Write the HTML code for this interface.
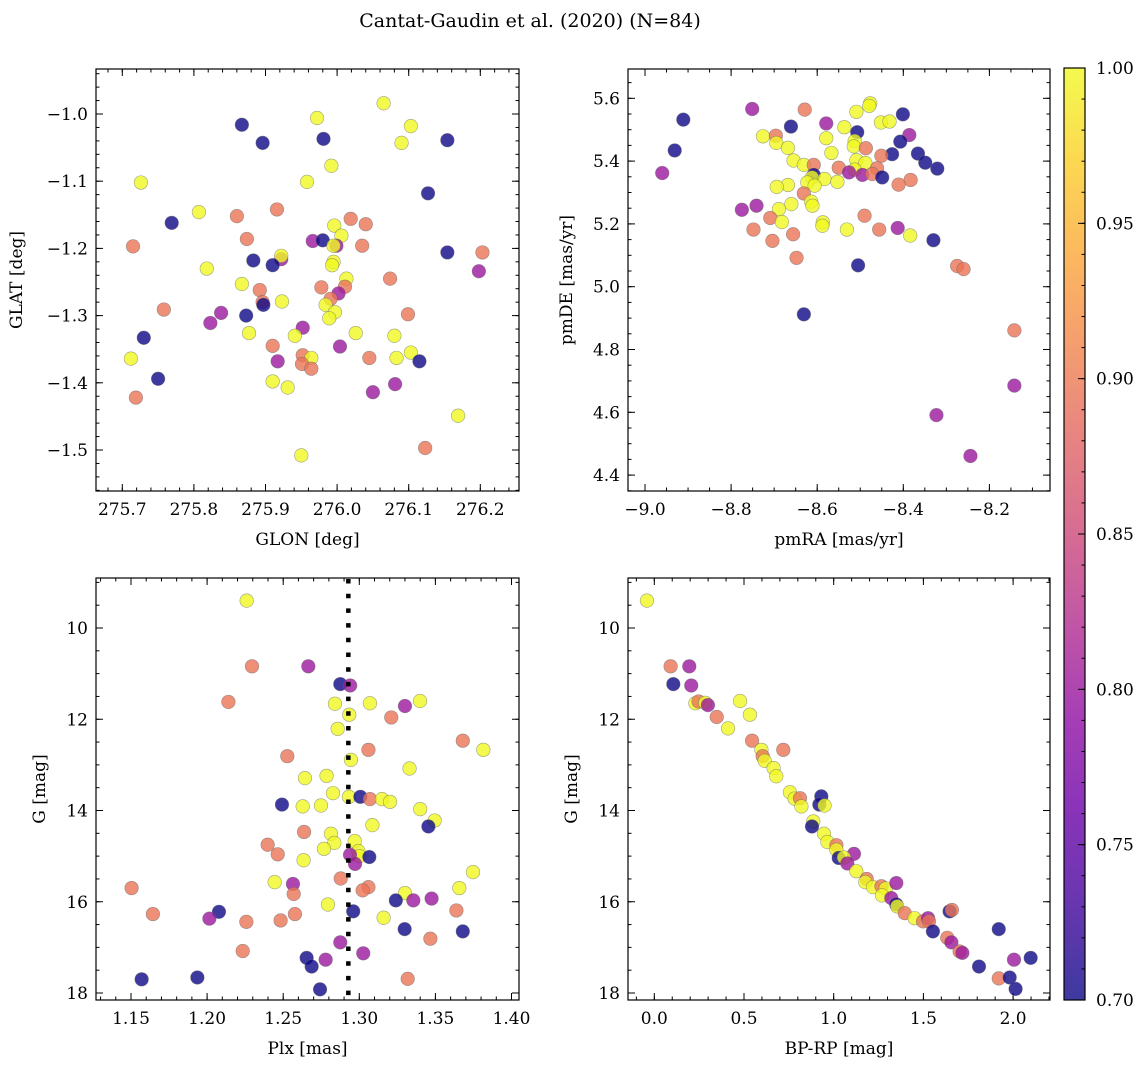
<!DOCTYPE html>
<html><head><meta charset="utf-8"><style>
html,body{margin:0;padding:0;background:#fff;}
svg{display:block;font-family:"DejaVu Serif","Liberation Serif",serif;}
</style></head><body>
<svg id="fig" width="1148" height="1068" viewBox="0 0 1148 1068" xmlns="http://www.w3.org/2000/svg">
<text x="530" y="27" text-anchor="middle" font-size="19">Cantat-Gaudin et al. (2020) (N=84)</text>
</svg>
<script>
// Panel 1: GLON / GLAT
const p1x=[276.065,275.972,276.103,275.867,275.896,275.981,276.090,276.154,275.992,275.726,275.958,276.127,275.807,275.916,275.860,276.019,275.769,276.040,275.996,276.006,275.874,275.966,275.980,275.999,275.995,276.035,275.715,276.154,276.203,275.922,275.922,275.883,275.910,275.995,275.993,276.198,275.818,276.013,276.074,276.011,275.867,275.978,275.892,276.002,275.991,275.896,275.897,275.984,275.923,275.997,275.989,275.758,275.838,275.823,275.873,276.099,275.877,275.952,275.941,276.026,276.080,275.730,276.004,275.910,275.712,275.917,275.952,275.964,275.951,275.964,276.045,276.083,276.103,276.115,275.750,275.910,275.931,276.081,276.050,275.719,276.169,276.123,275.950];
const p1y=[-0.984,-1.006,-1.018,-1.016,-1.043,-1.037,-1.043,-1.039,-1.077,-1.102,-1.101,-1.118,-1.146,-1.142,-1.152,-1.156,-1.162,-1.164,-1.166,-1.181,-1.186,-1.189,-1.188,-1.196,-1.196,-1.196,-1.197,-1.206,-1.206,-1.216,-1.211,-1.218,-1.225,-1.220,-1.225,-1.234,-1.230,-1.245,-1.245,-1.257,-1.253,-1.258,-1.262,-1.267,-1.275,-1.280,-1.284,-1.284,-1.279,-1.295,-1.304,-1.291,-1.296,-1.311,-1.300,-1.298,-1.326,-1.318,-1.330,-1.326,-1.330,-1.333,-1.346,-1.345,-1.364,-1.368,-1.359,-1.363,-1.372,-1.379,-1.363,-1.363,-1.355,-1.368,-1.394,-1.398,-1.407,-1.402,-1.414,-1.422,-1.449,-1.497,-1.508];
const p1p=[1,1,1,.7,.7,.7,1,.7,1,1,1,.7,1,.895,.895,.895,.7,.895,1,1,.895,.8,.7,.8,1,.895,.895,.7,.895,.8,1,.7,.7,1,1,.8,1,1,.895,.895,1,.895,.895,.8,.895,.895,.7,1,1,1,1,.895,.8,.8,.7,.895,1,.8,1,1,1,.7,.8,.895,1,.8,.895,1,.895,.895,.895,1,1,.7,.7,1,1,.8,.8,.895,1,.895,1];
// Panel 2: pmRA / pmDE
const p2x=[-8.751,-8.629,-8.911,-8.477,-8.479,-8.509,-8.401,-8.452,-8.432,-8.579,-8.661,-8.537,-8.507,-8.726,-8.696,-8.579,-8.386,-8.407,-8.695,-8.513,-8.515,-8.668,-8.487,-8.931,-8.567,-8.426,-8.366,-8.451,-8.509,-8.488,-8.655,-8.349,-8.631,-8.608,-8.550,-8.321,-8.461,-8.513,-8.526,-8.495,-8.472,-8.960,-8.608,-8.449,-8.612,-8.583,-8.553,-8.623,-8.383,-8.411,-8.606,-8.668,-8.694,-8.631,-8.614,-8.611,-8.660,-8.741,-8.775,-8.689,-8.490,-8.709,-8.682,-8.587,-8.588,-8.748,-8.531,-8.456,-8.413,-8.384,-8.656,-8.330,-8.704,-8.648,-8.505,-8.275,-8.260,-8.631,-8.142,-8.142,-8.323,-8.244];
const p2y=[5.566,5.564,5.532,5.584,5.576,5.557,5.549,5.523,5.526,5.520,5.510,5.508,5.492,5.479,5.481,5.473,5.483,5.462,5.458,5.464,5.447,5.442,5.441,5.434,5.426,5.422,5.424,5.417,5.403,5.394,5.402,5.395,5.388,5.388,5.379,5.376,5.377,5.373,5.364,5.356,5.359,5.362,5.356,5.348,5.348,5.343,5.334,5.332,5.340,5.325,5.322,5.324,5.318,5.297,5.271,5.258,5.263,5.258,5.245,5.247,5.226,5.219,5.206,5.205,5.194,5.182,5.182,5.182,5.187,5.163,5.167,5.148,5.146,5.092,5.068,5.066,5.056,4.912,4.861,4.685,4.591,4.461];
const p2p=[.8,.895,.7,1,1,1,.7,1,1,.8,.7,1,.7,1,.895,1,.8,.7,1,1,1,1,.895,.7,1,.7,.7,.895,1,1,1,.7,1,.895,.895,.7,.895,1,.8,.8,.895,.8,.7,.7,1,1,1,1,.895,.895,1,1,1,.895,1,1,1,.8,.8,1,.895,.895,1,1,1,.895,1,.895,.8,1,.895,.7,.895,.895,.7,.895,.895,.7,.895,.8,.8,.8];
// Panel 3: Plx / G
const p3x=[1.226,1.2295,1.2665,1.2875,1.294,1.214,1.284,1.307,1.330,1.3399,1.2934,1.321,1.2858,1.368,1.3815,1.306,1.2527,1.2945,1.333,1.2643,1.2785,1.2827,1.2932,1.3007,1.307,1.3149,1.3202,1.2492,1.2628,1.2748,1.340,1.3495,1.3454,1.3086,1.2637,1.2814,1.2836,1.297,1.2398,1.2768,1.2464,1.2634,1.2994,1.300,1.2939,1.2972,1.3066,1.3747,1.2878,1.2444,1.2564,1.1504,1.306,1.3022,1.2569,1.330,1.3657,1.324,1.3355,1.3475,1.2794,1.2078,1.2015,1.1644,1.2258,1.2483,1.2577,1.296,1.316,1.3638,1.3298,1.368,1.3467,1.2875,1.2234,1.2654,1.2779,1.3026,1.2687,1.157,1.1936,1.3318,1.2742];
const p3y=[9.40,10.84,10.84,11.23,11.26,11.62,11.66,11.65,11.71,11.60,11.90,11.96,12.21,12.47,12.67,12.67,12.81,12.89,13.08,13.29,13.24,13.62,13.70,13.70,13.75,13.75,13.81,13.87,13.91,13.89,13.97,14.22,14.35,14.32,14.47,14.51,14.71,14.67,14.75,14.84,14.96,15.09,14.89,15.00,14.97,15.17,15.02,15.35,15.49,15.57,15.61,15.70,15.68,15.75,15.83,15.81,15.70,15.97,15.97,15.93,16.06,16.22,16.37,16.27,16.44,16.41,16.27,16.21,16.35,16.19,16.60,16.65,16.81,16.89,17.08,17.23,17.27,17.13,17.42,17.70,17.66,17.69,17.92];
const p3p=[1,.895,.8,.7,.8,.895,1,1,.8,1,1,.895,1,.895,1,.895,.895,1,1,1,1,1,1,.7,.895,1,1,.7,1,1,1,1,.7,1,.895,1,1,1,.895,1,.895,1,1,1,.8,.8,.7,1,.895,1,.8,.895,.895,.895,.895,1,1,.7,.8,.8,1,.7,.8,.895,.895,.895,.895,.7,1,.895,.7,.7,.895,.8,.895,.7,.8,.8,.7,.7,.7,.895,.7];
// Panel 4: BP-RP / G
const p4x=[-0.041,0.091,0.195,0.106,0.206,0.229,0.247,0.284,0.299,0.478,0.533,0.348,0.411,0.545,0.719,0.597,0.604,0.615,0.665,0.680,0.756,0.782,0.931,0.920,0.949,0.812,0.820,0.886,0.879,0.946,0.965,1.015,1.015,1.113,1.028,1.057,1.076,1.126,1.184,1.176,1.219,1.266,1.290,1.269,1.349,1.321,1.349,1.354,1.396,1.451,1.498,1.526,1.531,1.553,1.646,1.659,1.633,1.656,1.702,1.717,1.810,1.920,2.005,2.098,1.920,1.981,2.014];
const p4y=[9.40,10.84,10.84,11.23,11.26,11.65,11.61,11.64,11.69,11.60,11.90,11.95,12.20,12.47,12.67,12.67,12.81,12.91,13.07,13.25,13.60,13.74,13.69,13.87,13.89,13.73,13.91,14.24,14.35,14.51,14.69,14.76,14.86,14.95,15.04,15.03,15.16,15.33,15.50,15.57,15.68,15.66,15.71,15.86,15.59,15.92,16.06,16.10,16.25,16.36,16.43,16.36,16.43,16.65,16.21,16.18,16.79,16.89,17.09,17.12,17.42,16.60,17.27,17.23,17.68,17.66,17.91];
const p4p=[1,.895,.8,.7,.8,1,.895,1,.8,1,1,.895,1,.895,.895,1,.895,1,1,1,1,1,.7,.7,1,.895,1,1,.7,1,1,.895,1,.8,.7,1,.8,1,.895,1,1,.895,1,1,.8,.8,.7,1,.895,1,.895,.8,.895,.7,.7,.895,.895,.8,.895,.8,.7,.7,.8,.7,.895,.7,.7];
const cbTicks=[0.70,0.75,0.80,0.85,0.90,0.95,1.00];

const NS="http://www.w3.org/2000/svg";
const svg=document.getElementById('fig');
const FS=17;
function mk(tag,attrs,parent){const e=document.createElementNS(NS,tag);for(const k in attrs)e.setAttribute(k,attrs[k]);(parent||svg).appendChild(e);return e;}
const stops=['#0d0887','#41049d','#6a00a8','#8f0da4','#b12a90','#cc4778','#e16462','#f2844b','#fca636','#fcce25','#f0f921'];
function hex(h){return [parseInt(h.substr(1,2),16),parseInt(h.substr(3,2),16),parseInt(h.substr(5,2),16)];}
function plasma(t){t=Math.max(0,Math.min(1,t));const f=t*10,i=Math.min(9,Math.floor(f)),r=f-i;const a=hex(stops[i]),b=hex(stops[i+1]);return 'rgb('+a.map((v,k)=>Math.round(v+(b[k]-v)*r)).join(',')+')';}
const lab=(v,d)=>(v<0?'\u2212':'')+Math.abs(v).toFixed(d);

function panel(cfg){
  const {name,L,T,W,H,xmin,xmax,ymin,ymax,invY,xt,yt,xminor,yminor,xd,yd,xlab,ylab}=cfg;
  const g=mk('g',{},svg);
  
  
  const sx=v=>L+(v-xmin)/(xmax-xmin)*W;
  const sy=v=>invY? T+(v-ymin)/(ymax-ymin)*H : T+H-(v-ymin)/(ymax-ymin)*H;
  const tg=mk('g',{stroke:'#000','stroke-width':1},g);
  
  
  const eps=1e-9;
  function ticksX(step,len){const s=Math.ceil((Math.min(xmin,xmax)-eps)/step);for(let k=s;k*step<=Math.max(xmin,xmax)+eps;k++){const x=sx(k*step);mk('line',{x1:x,x2:x,y1:T+H,y2:T+H-len},tg);mk('line',{x1:x,x2:x,y1:T,y2:T+len},tg);}}
  function ticksY(step,len){const s=Math.ceil((Math.min(ymin,ymax)-eps)/step);for(let k=s;k*step<=Math.max(ymin,ymax)+eps;k++){const y=sy(k*step);mk('line',{x1:L,x2:L+len,y1:y,y2:y},tg);mk('line',{x1:L+W,x2:L+W-len,y1:y,y2:y},tg);}}
  ticksX(xminor,3.5);ticksY(yminor,3.5);
  xt.forEach(v=>{const x=sx(v);mk('line',{x1:x,x2:x,y1:T+H,y2:T+H-7},tg);mk('line',{x1:x,x2:x,y1:T,y2:T+7},tg);
    const t=mk('text',{x:x,y:T+H+24,'text-anchor':'middle','font-size':FS},g);t.textContent=lab(v,xd);
    });
  yt.forEach(v=>{const y=sy(v);mk('line',{x1:L,x2:L+7,y1:y,y2:y},tg);mk('line',{x1:L+W,x2:L+W-7,y1:y,y2:y},tg);
    const t=mk('text',{x:L-8,y:y+6,'text-anchor':'end','font-size':FS},g);t.textContent=lab(v,yd);
    });
  const xl=mk('text',{x:L+W/2,y:T+H+54,'text-anchor':'middle','font-size':FS},g);xl.textContent=xlab;
  
  const yl=mk('text',{x:0,y:0,'text-anchor':'middle','font-size':FS,transform:'translate('+(cfg.ylx)+','+(T+H/2)+') rotate(-90)'},g);yl.textContent=ylab;
  
  const cp='clip-'+name;const defs=mk('defs',{},g);const c=mk('clipPath',{id:cp},defs);mk('rect',{x:L,y:T,width:W,height:H},c);
  const pts=mk('g',{'clip-path':'url(#'+cp+')'},g);
  
  
  cfg.xs.forEach((v,i)=>{const e=mk('circle',{cx:sx(v),cy:sy(cfg.ys[i]),r:6.8,fill:plasma((cfg.ps[i]-0.7)/0.3),'fill-opacity':0.8,stroke:'#666','stroke-opacity':0.6,'stroke-width':0.6},pts);
    
    });
  if(cfg.vline!==undefined){const l=mk('line',{x1:sx(cfg.vline),x2:sx(cfg.vline),y1:T+1,y2:T+H,stroke:'#000','stroke-width':4.5,'stroke-dasharray':'4.5 10.2'},g);
    }
  const fr=mk('rect',{x:L,y:T,width:W,height:H,fill:'none',stroke:'#000','stroke-width':1.2},g);
  
}
panel({name:'glon-glat-panel',L:96,T:69,W:423,H:422,xmin:275.7-26.3/716,xmax:275.7+396.7/716,ymin:-1.0-(491-114)/672,ymax:-1.0+(114-69)/672,invY:false,
  xt:[275.7,275.8,275.9,276.0,276.1,276.2],yt:[-1.0,-1.1,-1.2,-1.3,-1.4,-1.5],xminor:0.02,yminor:0.02,xd:1,yd:1,xlab:'GLON [deg]',ylab:'GLAT [deg]',ylx:22,xs:p1x,ys:p1y,ps:p1p});
panel({name:'pm-panel',L:628,T:69,W:422,H:422,xmin:-9.0-17/430.5,xmax:-9.0+405/430.5,ymin:5.6-(491-98.3)/314,ymax:5.6+(98.3-69)/314,invY:false,
  xt:[-9.0,-8.8,-8.6,-8.4,-8.2],yt:[4.4,4.6,4.8,5.0,5.2,5.4,5.6],xminor:0.05,yminor:0.05,xd:1,yd:1,xlab:'pmRA [mas/yr]',ylab:'pmDE [mas/yr]',ylx:572,xs:p2x,ys:p2y,ps:p2p});
panel({name:'plx-g-panel',L:96,T:578,W:423,H:422,xmin:1.15-35/1522,xmax:1.15+388/1522,ymin:10-50/45.625,ymax:10+372/45.625,invY:true,
  xt:[1.15,1.20,1.25,1.30,1.35,1.40],yt:[10,12,14,16,18],xminor:0.01,yminor:0.5,xd:2,yd:0,xlab:'Plx [mas]',ylab:'G [mag]',ylx:45,xs:p3x,ys:p3y,ps:p3p,vline:1.2928});
panel({name:'cmd-panel',L:628,T:578,W:422,H:422,xmin:-26.3/179.4,xmax:395.7/179.4,ymin:10-50/45.625,ymax:10+372/45.625,invY:true,
  xt:[0.0,0.5,1.0,1.5,2.0],yt:[10,12,14,16,18],xminor:0.1,yminor:0.5,xd:1,yd:0,xlab:'BP-RP [mag]',ylab:'G [mag]',ylx:577,xs:p4x,ys:p4y,ps:p4p});

const cb=mk('g',{},svg);


const defs=mk('defs',{},cb);const lg=mk('linearGradient',{id:'cbg',x1:0,y1:1,x2:0,y2:0},defs);
for(let i=0;i<=20;i++)mk('stop',{offset:i/20,'stop-color':plasma(i/20),'stop-opacity':0.8},lg);
const CX=1064,CW=21,CT=68,CB=1000;
mk('rect',{x:CX,y:CT,width:CW,height:CB-CT,fill:'url(#cbg)',stroke:'#000','stroke-width':1.2},cb);
const cy=v=>CB-(v-0.7)/0.3*(CB-CT);
for(let v=0.70;v<=1.0001;v+=0.01){const y=cy(v);mk('line',{x1:CX+CW,x2:CX+CW-3.5,y1:y,y2:y,stroke:'#000'},cb);}
cbTicks.forEach(v=>{const y=cy(v);mk('line',{x1:CX+CW,x2:CX+CW-7,y1:y,y2:y,stroke:'#000'},cb);
  const t=mk('text',{x:CX+CW+11,y:y+6,'font-size':FS},cb);t.textContent=v.toFixed(2);
  });
</script>
</body></html>
